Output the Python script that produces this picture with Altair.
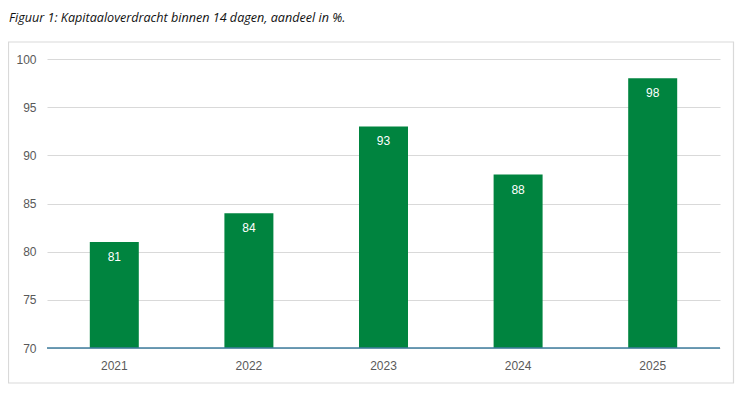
import altair as alt
import pandas as pd

years = ["2021", "2022", "2023", "2024", "2025"]
values = [81, 84, 93, 88, 98]
title_text = "Figuur 1: Kapitaaloverdracht binnen 14 dagen, aandeel in %."

df = pd.DataFrame({"jaar": years, "aandeel": values})

W, H = 673, 289

x = alt.X("jaar:N", sort=years, title=None,
          scale=alt.Scale(paddingInner=0.636, paddingOuter=0.318),
          axis=alt.Axis(labelAngle=0, labelColor="#595959", labelFont="Liberation Sans",
                        labelFontSize=12, labelPadding=12, ticks=False, domain=False,
                        grid=False))
y = alt.Y("aandeel:Q", title=None,
          scale=alt.Scale(domain=[70, 100], zero=False, nice=False),
          axis=alt.Axis(values=[70, 75, 80, 85, 90, 95, 100], labelColor="#595959",
                        labelFont="Liberation Sans", labelFontSize=12, labelPadding=11,
                        ticks=False, domain=False, gridColor="#d9d9d9", gridWidth=1))

bars = alt.Chart(df).mark_bar(color="#00843F").encode(x=x, y=y, y2=alt.datum(70))

labels = alt.Chart(df).mark_text(color="white", font="Liberation Sans", fontSize=12,
                                 baseline="middle", dy=15).encode(
    x=alt.X("jaar:N", sort=years), y=alt.Y("aandeel:Q"), text="aandeel:Q")

baseline = alt.Chart(pd.DataFrame({"v": [70]})).mark_rule(color="#3E7C9E", strokeWidth=1.5).encode(
    y=alt.Y("v:Q"))

border = alt.Chart(pd.DataFrame({"t": [title_text]})).mark_rect(
    fill=None, stroke="#d9d9d9", strokeWidth=1.2, clip=False).encode(
    x=alt.value(-38.5), x2=alt.value(686.5), y=alt.value(-17), y2=alt.value(324))

title = alt.Chart(pd.DataFrame({"t": [title_text]})).mark_text(
    align="left", baseline="middle", font="Open Sans", fontStyle="italic", fontSize=12.6,
    color="#111111", clip=False).encode(
    x=alt.value(-38), y=alt.value(-41), text="t:N")

chart = alt.layer(border, bars, labels, baseline, title).properties(
    width=W, height=H,
    background="white",
    autosize=alt.AutoSizeParams(type="none"),
    padding={"left": 39, "top": 51, "right": 15, "bottom": 39},
).configure_view(strokeWidth=0, stroke="transparent")

chart.save("out.html", embed_options={"renderer": "svg", "actions": False})
